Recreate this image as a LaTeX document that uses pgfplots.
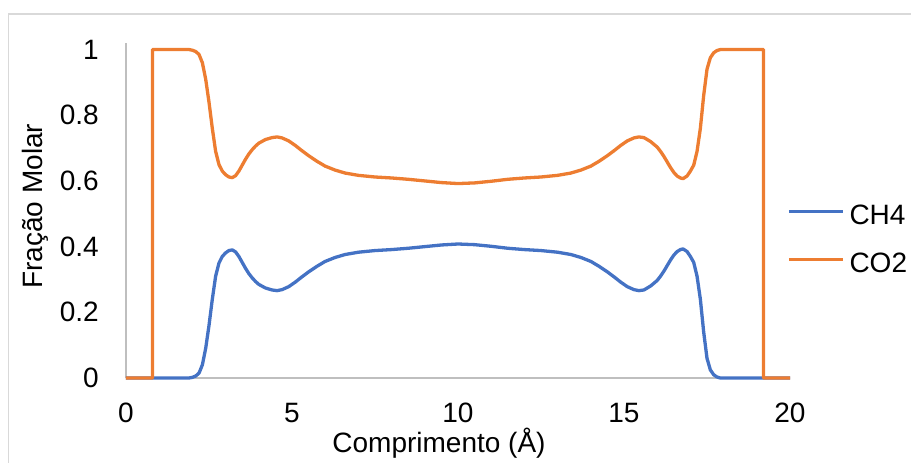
\documentclass[border=0pt]{standalone}
\usepackage{pgfplots}
\pgfplotsset{compat=1.18}
\usepackage{pgfplotstable}
\usepackage{fontspec}
\setmainfont{Liberation Sans}
\definecolor{chblue}{HTML}{4472C4}
\definecolor{coorange}{HTML}{ED7D31}
\definecolor{axgray}{HTML}{BFBFBF}
\definecolor{framegray}{HTML}{D9D9D9}

\pgfplotstableread{
x y
0 0
0.8 0
1.9 0
2.0 0.002
2.1 0.006
2.2 0.015
2.3 0.04
2.4 0.09
2.5 0.16
2.6 0.24
2.7 0.31
2.8 0.35
2.9 0.37
3.0 0.381
3.1 0.388
3.2 0.39
3.3 0.384
3.4 0.37
3.5 0.352
3.6 0.334
3.7 0.318
3.8 0.305
3.9 0.294
4.0 0.285
4.2 0.274
4.4 0.268
4.55 0.266
4.7 0.269
4.9 0.278
5.1 0.292
5.3 0.308
5.5 0.323
5.75 0.340
6.0 0.355
6.3 0.367
6.6 0.376
7.0 0.383
7.5 0.388
8.0 0.391
8.5 0.395
9.0 0.400
9.5 0.405
10.0 0.408
10.5 0.406
11.0 0.401
11.5 0.395
12.0 0.391
12.5 0.388
13.0 0.383
13.4 0.376
13.7 0.367
14.0 0.355
14.25 0.340
14.5 0.323
14.7 0.308
14.9 0.292
15.1 0.278
15.3 0.269
15.45 0.266
15.6 0.268
15.8 0.280
16.0 0.297
16.1 0.310
16.2 0.325
16.3 0.342
16.4 0.359
16.5 0.374
16.6 0.385
16.7 0.391
16.78 0.393
16.9 0.385
17.0 0.370
17.1 0.352
17.2 0.310
17.3 0.240
17.4 0.140
17.5 0.060
17.6 0.025
17.7 0.010
17.8 0.003
17.9 0
20 0
}\chfour

\pgfplotstableread{
x y
0 0
0.8 0
0.8 1
1.9 1
2.0 0.998
2.1 0.994
2.2 0.985
2.3 0.96
2.4 0.91
2.5 0.84
2.6 0.76
2.7 0.69
2.8 0.65
2.9 0.63
3.0 0.619
3.1 0.612
3.2 0.61
3.3 0.616
3.4 0.63
3.5 0.648
3.6 0.666
3.7 0.682
3.8 0.695
3.9 0.706
4.0 0.715
4.2 0.726
4.4 0.732
4.55 0.734
4.7 0.731
4.9 0.722
5.1 0.708
5.3 0.692
5.5 0.677
5.75 0.660
6.0 0.645
6.3 0.633
6.6 0.624
7.0 0.617
7.5 0.612
8.0 0.609
8.5 0.605
9.0 0.600
9.5 0.595
10.0 0.592
10.5 0.594
11.0 0.599
11.5 0.605
12.0 0.609
12.5 0.612
13.0 0.617
13.4 0.624
13.7 0.633
14.0 0.645
14.25 0.660
14.5 0.677
14.7 0.692
14.9 0.708
15.1 0.722
15.3 0.731
15.45 0.734
15.6 0.732
15.8 0.720
16.0 0.703
16.1 0.690
16.2 0.675
16.3 0.658
16.4 0.641
16.5 0.626
16.6 0.615
16.7 0.609
16.78 0.607
16.9 0.615
17.0 0.630
17.1 0.648
17.2 0.690
17.3 0.760
17.4 0.860
17.5 0.940
17.6 0.975
17.7 0.990
17.8 0.997
17.9 1
19.2 1
19.2 0
20 0
}\cotwo

\begin{document}
\begin{tikzpicture}
\useasboundingbox (0pt,0pt) rectangle (911pt,463pt);
\draw[framegray, line width=1.3pt] (8.5pt,0pt) -- (8.5pt,449pt) -- (911pt,449pt);
\begin{axis}[
  at={(126pt,85pt)}, anchor=south west,
  scale only axis,
  width=664pt, height=335pt,
  xmin=0, xmax=20, ymin=0, ymax=1.02,
  xtick={0,5,10,15,20},
  ytick={0,0.2,0.4,0.6,0.8,1},
  yticklabels={0,0.2,0.4,0.6,0.8,1},
  axis lines=left,
  axis line style={axgray, line width=1.3pt, -},
  major tick length=0pt,
  tick style={draw=none},
  font=\fontsize{28}{33}\selectfont,
  /pgf/number format/assume math mode=true,
  xticklabel style={inner sep=0pt, anchor=north, yshift=-25pt},
  yticklabel style={inner sep=0pt, anchor=east, xshift=-27pt},
  xlabel={Comprimento (Å)},
  ylabel={Fração Molar},
  xlabel style={at={(axis description cs:0.4714,-0.2209)}, anchor=base, inner sep=0pt},
  ylabel style={at={(axis description cs:-0.1265,0.513)}, anchor=base, inner sep=0pt, rotate=0},
  legend style={draw=none, fill=none, at={(axis description cs:0.9955,0.4149)}, anchor=west,
    inner sep=0pt, nodes={inner sep=0pt}, row sep=27pt, column sep=5pt,
    font=\fontsize{28}{33}\selectfont},
  legend cell align=left,
  legend image code/.code={\draw[#1] (0pt,0.35em) -- (54pt,0.35em);},
  clip=false,
]
\addplot[chblue, line width=3.3pt, line join=round] table[x=x,y=y] {\chfour};
\addlegendentry{CH4}
\addplot[coorange, line width=3.3pt, line join=round] table[x=x,y=y] {\cotwo};
\addlegendentry{CO2}
\end{axis}
\end{tikzpicture}
\end{document}
